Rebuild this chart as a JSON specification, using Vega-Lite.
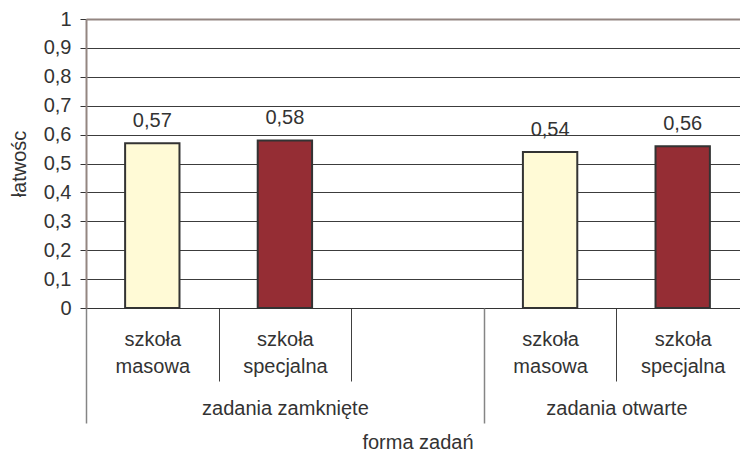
{
  "$schema": "https://vega.github.io/schema/vega-lite/v6.json",
  "autosize": {"type": "none"},
  "padding": {"left": 86, "top": 19, "right": 0, "bottom": 144},
  "width": 654,
  "height": 289,
  "config": {
    "font": "Liberation Sans",
    "view": {"stroke": null},
    "locale": {"number": {"decimal": ",", "thousands": " ", "grouping": [3], "currency": ["", " zł"]}},
    "axis": {"labelFont": "Liberation Sans", "titleFont": "Liberation Sans"}
  },
  "data": {
    "values": [
      {"slot": "1", "forma": "zadania zamknięte", "szkola": "szkoła masowa", "latwosc": 0.57},
      {"slot": "2", "forma": "zadania zamknięte", "szkola": "szkoła specjalna", "latwosc": 0.58},
      {"slot": "4", "forma": "zadania otwarte", "szkola": "szkoła masowa", "latwosc": 0.54},
      {"slot": "5", "forma": "zadania otwarte", "szkola": "szkoła specjalna", "latwosc": 0.56}
    ]
  },
  "resolve": {"scale": {"x": "independent"}, "axis": {"x": "independent"}},
  "layer": [
    {
      "encoding": {
        "x": {
          "field": "slot", "type": "nominal",
          "scale": {"domain": ["1", "2", "3", "4", "5"], "range": [0, 663], "paddingInner": 0, "paddingOuter": 0},
          "axis": {
            "orient": "bottom", "title": null, "tickBand": "extent", "tickSize": 73,
            "tickColor": "#404040", "tickWidth": 1,
            "tickOpacity": {"condition": {"test": "datum.value == '3' || datum.value == null", "value": 0}, "value": 1},
            "domainColor": "#333333", "domainWidth": 1,
            "labelExpr": "(!datum.label || datum.value == null || datum.value == '3') ? '' : ((datum.value == '1' || datum.value == '4') ? ['szkoła', 'masowa'] : ['szkoła', 'specjalna'])",
            "labelPadding": -36, "labelBaseline": "alphabetic", "labelAngle": 0,
            "labelFontSize": 20, "labelLineHeight": 27, "labelColor": "#333333"
          }
        },
        "y": {
          "field": "latwosc", "type": "quantitative",
          "scale": {"domain": [0, 1], "nice": false},
          "axis": {
            "values": [0, 0.1, 0.2, 0.3, 0.4, 0.5, 0.6, 0.7, 0.8, 0.9, 1],
            "format": ".1~f",
            "tickSize": 6, "tickColor": "#333333",
            "labelPadding": 9, "labelFontSize": 20, "labelColor": "#333333",
            "domainColor": "#938681", "domainWidth": 2,
            "grid": true,
            "gridColor": {"condition": {"test": "datum.value == 1", "value": "#938681"}, "value": "#3c3c3c"},
            "gridWidth": {"condition": {"test": "datum.value == 1", "value": 2}, "value": 1},
            "title": "łatwośc", "titleFontSize": 20, "titleFontWeight": "normal",
            "titleColor": "#333333", "titlePadding": 14
          }
        }
      },
      "layer": [
        {
          "mark": {"type": "bar", "width": {"band": 0.41}, "stroke": "#333333", "strokeWidth": 2},
          "encoding": {
            "color": {
              "field": "szkola", "type": "nominal",
              "scale": {"domain": ["szkoła masowa", "szkoła specjalna"], "range": ["#FFFAD6", "#952D34"]},
              "legend": null
            }
          }
        },
        {
          "mark": {"type": "text", "fontSize": 20, "color": "#333333", "baseline": "alphabetic", "dy": -16},
          "encoding": {
            "text": {"field": "latwosc", "type": "quantitative", "format": ".2f"}
          }
        }
      ]
    },
    {
      "mark": {"type": "point", "opacity": 0},
      "encoding": {
        "x": {
          "datum": 0, "type": "quantitative",
          "scale": {"domain": [0, 5], "range": [0, 663], "nice": false, "zero": false},
          "axis": {
            "orient": "bottom", "values": [0, 3, 5], "labels": false, "domain": false, "grid": false,
            "ticks": true, "tickSize": 115, "tickColor": "#858585", "tickWidth": 1.5,
            "title": "forma zadań", "titleFontSize": 20, "titleFontWeight": "normal",
            "titleColor": "#333333", "titlePadding": 9
          }
        }
      }
    },
    {
      "mark": {"type": "point", "opacity": 0},
      "encoding": {
        "x": {
          "datum": 0, "type": "quantitative",
          "scale": {"domain": [0, 5], "range": [0, 663], "nice": false, "zero": false},
          "axis": {
            "orient": "bottom", "values": [1.5, 4], "ticks": false, "tickSize": 0, "domain": false, "grid": false,
            "labelExpr": "datum.value < 2 ? 'zadania zamknięte' : 'zadania otwarte'",
            "labelPadding": 106, "labelBaseline": "alphabetic", "labelFontSize": 20,
            "labelColor": "#333333", "labelFlush": false, "labelOverlap": false, "labelBound": false,
            "title": null
          }
        }
      }
    }
  ]
}
